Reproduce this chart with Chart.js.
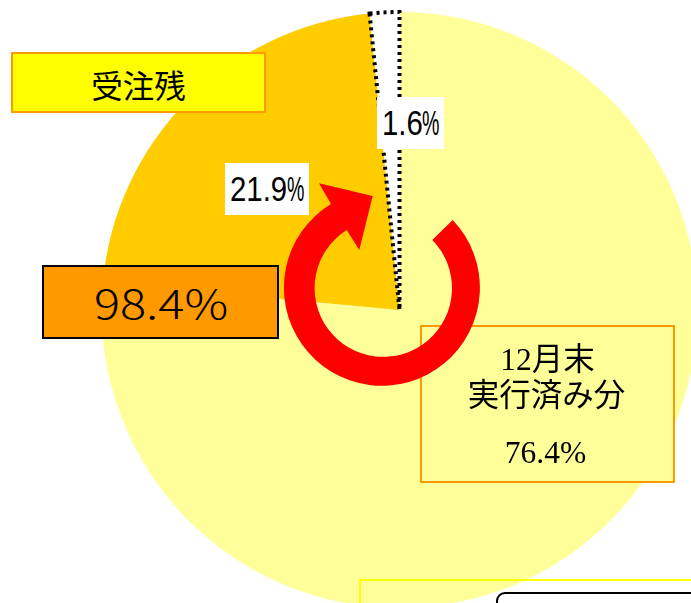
<!DOCTYPE html>
<html lang="ja">
<head>
<meta charset="utf-8">
<script src="https://cdn.jsdelivr.net/npm/chart.js@4"></script>
<style>
html,body{margin:0;padding:0;background:#fff;width:691px;height:603px;overflow:hidden}
#stage{position:absolute;left:0;top:0;width:691px;height:603px;overflow:hidden}
#wrap{position:absolute;left:0;top:0;width:799px;height:620px}
.b{position:absolute;box-sizing:border-box;color:#000}
.c{display:flex;align-items:center;justify-content:center;white-space:nowrap}
.jp{font-family:"Noto Sans CJK JP"}
.pct{font-family:"Liberation Sans";font-size:35px;background:#fff}
.pct span{display:inline-block;transform-origin:left center}
.ln{position:absolute;left:-2px;right:0;text-align:center;font-size:31.5px;line-height:36px;white-space:nowrap}
.ser{font-family:"Liberation Serif","Noto Sans CJK JP"}
svg{position:absolute;left:0;top:0}
</style>
</head>
<body>
<div id="stage">
<div id="wrap"><canvas id="c" width="799" height="620"></canvas></div>
<div class="b" style="left:359px;top:579px;width:400px;height:60px;border:2px solid #FFFF00"></div>
<div class="b" style="left:496px;top:592px;width:300px;height:60px;border:2px solid #000;border-radius:9px;background:#fff"></div>
<div class="b c jp" style="left:11px;top:52px;width:255px;height:61px;background:#FFFF00;border:2px solid #FF9900;font-size:31.5px;padding-top:2px">受注残</div>
<div class="b c jp" style="left:42px;top:265px;width:237px;height:74px;background:#FF9900;border:2px solid #000;font-size:40px;font-weight:300"><span style="display:inline-block;transform:translateX(1px) scaleX(1.22)">98.4%</span></div>
<div class="b c pct" style="left:225px;top:163px;width:84px;height:52px;justify-content:flex-start"><span style="margin-left:5px;transform:scaleX(.84)">21.9</span><span style="position:absolute;left:62px;transform:scaleX(.56)">%</span></div>
<div class="b c pct" style="left:377px;top:97px;width:67px;height:52px;justify-content:flex-start"><span style="margin-left:5px;transform:scaleX(.84)">1.6</span><span style="position:absolute;left:45px;transform:scaleX(.56)">%</span></div>
<div class="b ser" style="left:420px;top:325px;width:255px;height:158px;background:#FFFF99;border:2px solid #FF9900">
<div class="ln" style="top:11px;left:0">12<span class="jp">月末</span></div>
<div class="ln jp" style="top:47px">実行済み分</div>
<div class="ln" style="top:108px;left:-4px">76.4%</div>
</div>
<svg width="691" height="603"><path fill="#FF0000" d="M452.7,220 A98,98 0 1 1 331,204 L319,183.3 L372.7,196 L359.3,250 L346.7,230 A68.7,68.7 0 1 0 432.3,240 Z"/></svg>
</div>
<script>
const categories = ["12月末実行済み分", "受注残", "未受注"];
const seriesValues = [76.4, 21.9, 1.6];
const sliceColors = ["#FFFF99", "#FFCC00", "#FFFFFF"];
const borderColors = ["#FFFF99", "#FFCC00", "#000000"];
const borderWidths = [0, 0, 4];

new Chart(document.getElementById("c"), {
  type: "pie",
  data: {
    labels: categories,
    datasets: [{
      data: seriesValues,
      backgroundColor: sliceColors,
      borderColor: borderColors,
      borderWidth: borderWidths,
      borderDash: [3, 4],
      borderJoinStyle: "miter",
      hoverOffset: 0
    }]
  },
  options: {
    responsive: false,
    animation: false,
    layout: { padding: 10 },
    plugins: { legend: { display: false }, tooltip: { enabled: false }, title: { display: false } }
  }
});
</script>
</body>
</html>
